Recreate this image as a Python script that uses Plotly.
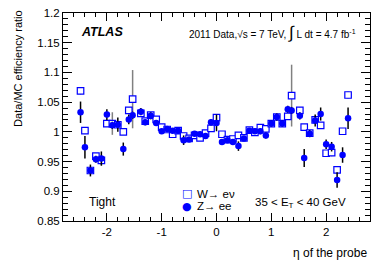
import plotly.graph_objects as go

# eta bin centres of the probe
eta = [-2.48, -2.4, -2.3, -2.2, -2.1, -2.0, -1.9, -1.8, -1.7, -1.6, -1.53,
       -1.38, -1.3, -1.2, -1.1, -1.0, -0.9, -0.8, -0.7, -0.6, -0.5, -0.4,
       -0.3, -0.2, -0.1, 0.0, 0.1, 0.2, 0.3, 0.4, 0.5, 0.6, 0.7, 0.8, 0.9,
       1.0, 1.1, 1.2, 1.3, 1.37, 1.52, 1.6, 1.7, 1.8, 1.9, 2.0, 2.1, 2.2,
       2.3, 2.4]

# W -> e nu (open squares)
w_ratio = [1.069, 1.002, 0.935, 0.959, 0.952, 1.014, 1.014, 1.012, 1.000,
           1.036, 1.055, 1.031, 1.018, 1.028, 1.021, 1.008, 1.004, 0.996,
           1.002, 0.993, 0.989, 0.994, 0.990, 0.998, 1.006, 1.024, 0.996,
           0.987, 0.988, 0.994, 0.990, 1.003, 0.999, 1.007, 1.005, 1.014,
           1.025, 1.014, 1.026, 1.061, 1.036, 1.008, 0.998, 1.020, 1.011,
           0.964, 0.965, 0.936, 1.001, 1.062]
w_err = [0.006, 0.004, 0.004, 0.005, 0.008, 0.004, 0.019, 0.004, 0.004,
         0.006, 0.049, 0.006, 0.004, 0.004, 0.004, 0.003, 0.003, 0.003,
         0.003, 0.003, 0.003, 0.003, 0.003, 0.003, 0.003, 0.004, 0.003,
         0.003, 0.003, 0.003, 0.003, 0.003, 0.003, 0.003, 0.003, 0.003,
         0.004, 0.004, 0.004, 0.052, 0.006, 0.004, 0.004, 0.004, 0.004,
         0.004, 0.006, 0.005, 0.005, 0.006]

# Z -> ee (filled circles)
z_ratio = [1.033, 0.974, 0.935, 0.954, 0.955, 1.029, 1.011, 1.012, 0.971,
           1.021, 1.028, 1.034, 1.016, 1.027, 1.015, 1.001, 1.005, 1.002,
           1.002, 0.986, 0.987, 0.997, 0.996, 0.993, 1.016, 1.015, 0.983,
           0.986, 0.983, 0.976, 0.989, 1.002, 1.001, 1.001, 0.994, 1.014,
           1.025, 1.014, 1.038, 1.036, 1.027, 0.956, 0.997, 1.019, 1.030,
           0.979, 0.975, 0.919, 0.961, 1.023]
z_err = [0.018, 0.019, 0.010, 0.006, 0.012, 0.009, 0.006, 0.012, 0.011,
         0.008, 0.006, 0.006, 0.005, 0.006, 0.005, 0.004, 0.004, 0.004,
         0.004, 0.008, 0.004, 0.004, 0.004, 0.004, 0.005, 0.014, 0.005,
         0.004, 0.005, 0.008, 0.004, 0.004, 0.004, 0.005, 0.005, 0.005,
         0.006, 0.005, 0.006, 0.006, 0.006, 0.015, 0.006, 0.010, 0.011,
         0.008, 0.008, 0.013, 0.013, 0.018]

y_ticks = [0.85, 0.9, 0.95, 1.0, 1.05, 1.1, 1.15, 1.2]
y_labels = ["0.85", "0.9", "0.95", "1", "1.05", "1.1", "1.15", "1.2"]
x_ticks = [-2, -1, 0, 1, 2]
x_labels = ["-2", "-1", "0", "1", "2"]

BLUE = "#0000ff"
FONT = "Liberation Sans, Arial, sans-serif"

fig = go.Figure()

fig.add_trace(go.Scatter(
    x=eta, y=w_ratio, mode="markers", name="W\u2192 e\u03bd",
    marker=dict(symbol="square", size=6.5, color="white",
                line=dict(color=BLUE, width=1.2)),
    error_y=dict(type="data", array=w_err, color="#808080",
                 thickness=1.5, width=0),
))

fig.add_trace(go.Scatter(
    x=eta, y=z_ratio, mode="markers", name="Z\u2192 ee",
    marker=dict(symbol="circle", size=6.5, color=BLUE),
    error_y=dict(type="data", array=z_err, color="black",
                 thickness=1.5, width=0),
))

axis_common = dict(showline=True, linecolor="black", linewidth=1,
                   mirror="allticks", ticks="inside", tickcolor="black",
                   showgrid=False, zeroline=False, automargin=False,
                   tickfont=dict(family=FONT, size=11.5, color="black"))

fig.update_xaxes(range=[-2.8, 2.8], tickvals=x_ticks, ticktext=x_labels,
                 ticklen=8,
                 minor=dict(ticks="inside", ticklen=4, dtick=0.2, tick0=0,
                            tickcolor="black", showgrid=False),
                 **axis_common)
fig.update_yaxes(range=[0.85, 1.2], tickvals=y_ticks, ticktext=y_labels,
                 ticklen=9,
                 minor=dict(ticks="inside", ticklen=5, dtick=0.01, tick0=0,
                            tickcolor="black", showgrid=False),
                 **axis_common)


def note(text, x, y, size, xanchor="left", **kw):
    fig.add_annotation(text=text, xref="paper", yref="paper", x=x, y=y,
                       xanchor=xanchor, yanchor="middle", showarrow=False,
                       font=dict(family=kw.pop("family", FONT), size=size,
                                 color=kw.pop("color", "black")), **kw)


note("<b><i>ATLAS</i></b>", 0.053, 0.907, 12.5)
note("2011 Data,\u221as = 7 TeV, <span style='font-size:17px'>\u222b</span>"
     " L dt = 4.7 fb<sup>-1</sup>", 0.403, 0.904, 10)
note("Tight", 0.077, 0.093, 12)
note("35 &lt; E<sub>T</sub> &lt; 40 GeV", 0.619, 0.085, 11.5)
note("Data/MC efficiency ratio", -0.1466, 0.736, 11, xanchor="center",
     textangle=-90)
note("\u03b7 of the probe", 0.997, -0.154, 12, xanchor="right")

# legend drawn ROOT-style: glyph + label
note("\u25a1", 0.403, 0.130, 11, xanchor="center", color=BLUE,
     family="DejaVu Sans")
note("\u25cf", 0.403, 0.072, 11, xanchor="center", color=BLUE,
     family="DejaVu Sans")
note("W\u2192 e\u03bd", 0.430, 0.130, 11.5)
note("Z\u2192 ee", 0.430, 0.072, 11.5)

fig.update_layout(
    width=390, height=265,
    margin=dict(l=63, r=20, t=13, b=44),
    paper_bgcolor="white", plot_bgcolor="white",
    showlegend=False,
)

fig.write_html("out.html", config={"displayModeBar": False},
               post_script="document.body.style.margin='0';")
